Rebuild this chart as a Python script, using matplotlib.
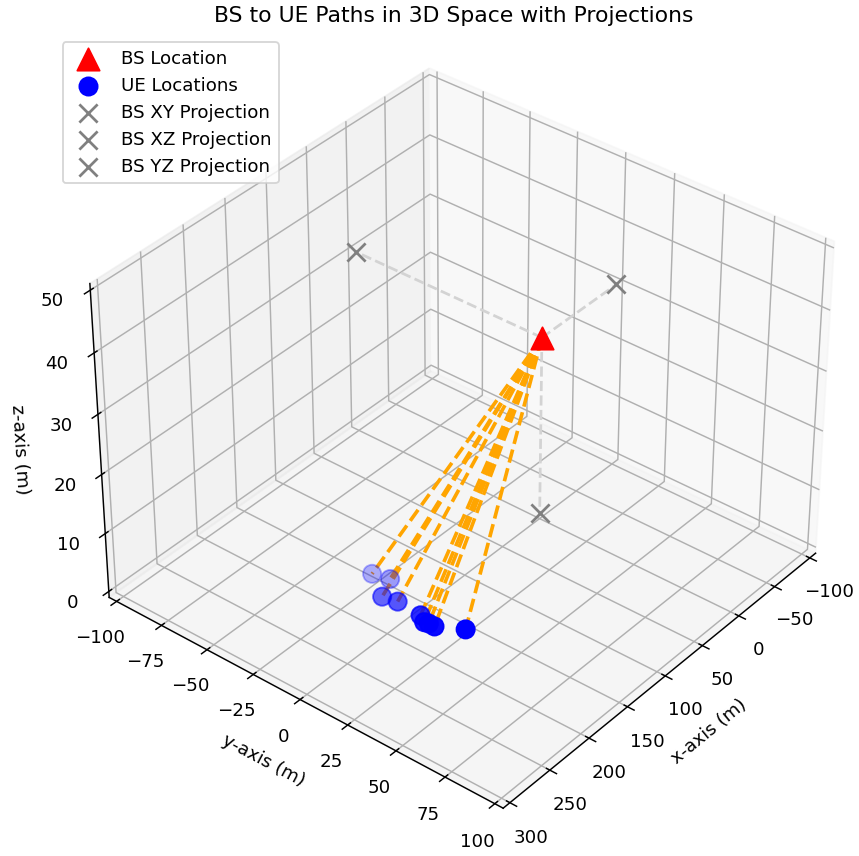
import matplotlib
matplotlib.use("Agg")
import matplotlib.pyplot as plt

try:
    plt.rcParams['axes3d.automargin'] = True
except Exception:
    pass

# Data
bs = [0, 0, 30]
ue_x = [162, 158, 180, 177, 179, 184, 183, 183, 170]
ue_y = [-24, -16, -11, -4, 9, 13, 15, 18, 29]
ue_z = [1.5, 1.5, 1.5, 1.5, 1.5, 1.5, 1.5, 1.5, 1.5]
x_lim = (-100, 300)
y_lim = (-100, 100)
z_lim = (0, 50)
x_ticks = [-100, -50, 0, 50, 100, 150, 200, 250, 300]
y_ticks = [-100, -75, -50, -25, 0, 25, 50, 75, 100]
z_ticks = [0, 10, 20, 30, 40, 50]

DPI = 131
fig = plt.figure(figsize=(859 / DPI, 856 / DPI), dpi=DPI)
ax = fig.add_subplot(projection='3d')
ax.set_position([0.0624, 0.0257, 0.9321, 0.9354])

ax.scatter(*bs, color='red', marker='^', s=150, label='BS Location', depthshade=False)
ax.scatter(ue_x, ue_y, ue_z, color='blue', marker='o', s=100, label='UE Locations')
for x, y, z in zip(ue_x, ue_y, ue_z):
    ax.plot([bs[0], x], [bs[1], y], [bs[2], z], color='orange', linestyle='--', linewidth=2)

proj_xy = (bs[0], bs[1], z_lim[0])
proj_xz = (bs[0], y_lim[0], bs[2])
proj_yz = (x_lim[0], bs[1], bs[2])
ax.scatter(*proj_xy, color='gray', marker='x', s=100, label='BS XY Projection', depthshade=False)
ax.scatter(*proj_xz, color='gray', marker='x', s=100, label='BS XZ Projection', depthshade=False)
ax.scatter(*proj_yz, color='gray', marker='x', s=100, label='BS YZ Projection', depthshade=False)
for p in (proj_xy, proj_xz, proj_yz):
    ax.plot([bs[0], p[0]], [bs[1], p[1]], [bs[2], p[2]], color='lightgray', linestyle='--', linewidth=1.5)

ax.set_xlim(*x_lim)
ax.set_ylim(*y_lim)
ax.set_zlim(*z_lim)
ax.set_xticks(x_ticks)
ax.set_yticks(y_ticks)
ax.set_zticks(z_ticks)
ax.set_xlabel('x-axis (m)')
ax.set_ylabel('y-axis (m)')
ax.set_zlabel('z-axis (m)')
ax.set_title('BS to UE Paths in 3D Space with Projections')
ax.view_init(elev=36, azim=39.2)
ax.legend(loc='upper left')

fig.savefig('out.png', dpi=DPI)
